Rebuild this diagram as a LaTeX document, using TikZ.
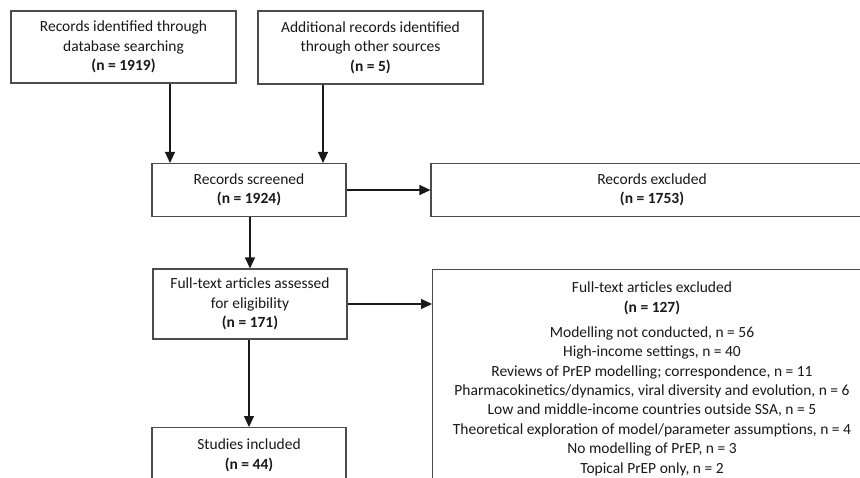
\documentclass[tikz,border=0pt]{standalone}
\usepackage{fontspec}
\setmainfont{Carlito}
\usetikzlibrary{arrows.meta}
\tikzset{
  txt/.style={font=\fontsize{15.5}{19.4}\selectfont, text=black!90, align=center, inner sep=0pt},
  box/.style={txt, draw=black!70, line width=1.1pt, fill=white},
  arr/.style={draw=black!90, line width=1.1pt, -{Triangle[length=11pt,width=10pt]}}
}
\begin{document}
\begin{tikzpicture}[x=1pt,y=-1pt]
\useasboundingbox (0,0) rectangle (860,477);
\clip (0,0) rectangle (860,477);
\node[box, minimum width=225pt, minimum height=72pt] (A) at (123.5,47)
  {Records identified through\\database searching\\\textbf{(n = 1919)}};
\node[box, minimum width=225pt, minimum height=73pt] (B) at (370.5,47.5)
  {Additional records identified\\through other sources\\\textbf{(n = 5)}};
\node[box, minimum width=194pt, minimum height=53pt] (C) at (249,190)
  {Records screened\\\textbf{(n = 1924)}};
\node[box, minimum width=442pt, minimum height=53pt] (D) at (652,190)
  {Records excluded\\\textbf{(n = 1753)}};
\node[box, minimum width=194pt, minimum height=70pt] (E) at (250,304)
  {Full-text articles assessed\\for eligibility\\\textbf{(n = 171)}};
\node[box, minimum width=194pt, minimum height=60pt, anchor=north] (F) at (249,427) {};
\node[txt, anchor=north] (Ft) at (249,439)
  {Studies included\\\textbf{(n = 44)}};
\node[box, minimum width=440pt, minimum height=230pt, anchor=north west] (G) at (432,269) {};
\node[txt, anchor=north] (Gt) at (652,282)
  {Full-text articles excluded\\\textbf{(n = 127)}\\[5.5pt]
   Modelling not conducted, n = 56\\
   High-income settings, n = 40\\
   Reviews of PrEP modelling; correspondence, n = 11\\
   Pharmacokinetics/dynamics, viral diversity and evolution, n = 6\\
   Low and middle-income countries outside SSA, n = 5\\
   Theoretical exploration of model/parameter assumptions, n = 4\\
   No modelling of PrEP, n = 3\\
   Topical PrEP only, n = 2};
\coordinate (xa) at (170,0);
\coordinate (xb) at (323,0);
\draw[arr] (A.south -| xa) -- (C.north -| xa);
\draw[arr] (B.south -| xb) -- (C.north -| xb);
\draw[arr] (C.east) -- (D.west);
\draw[arr] (C.south -| E.north) -- (E.north);
\draw[arr] (E.south -| F.north) -- (F.north);
\draw[arr] (E.east) -- (E.east -| G.west);
\end{tikzpicture}
\end{document}
